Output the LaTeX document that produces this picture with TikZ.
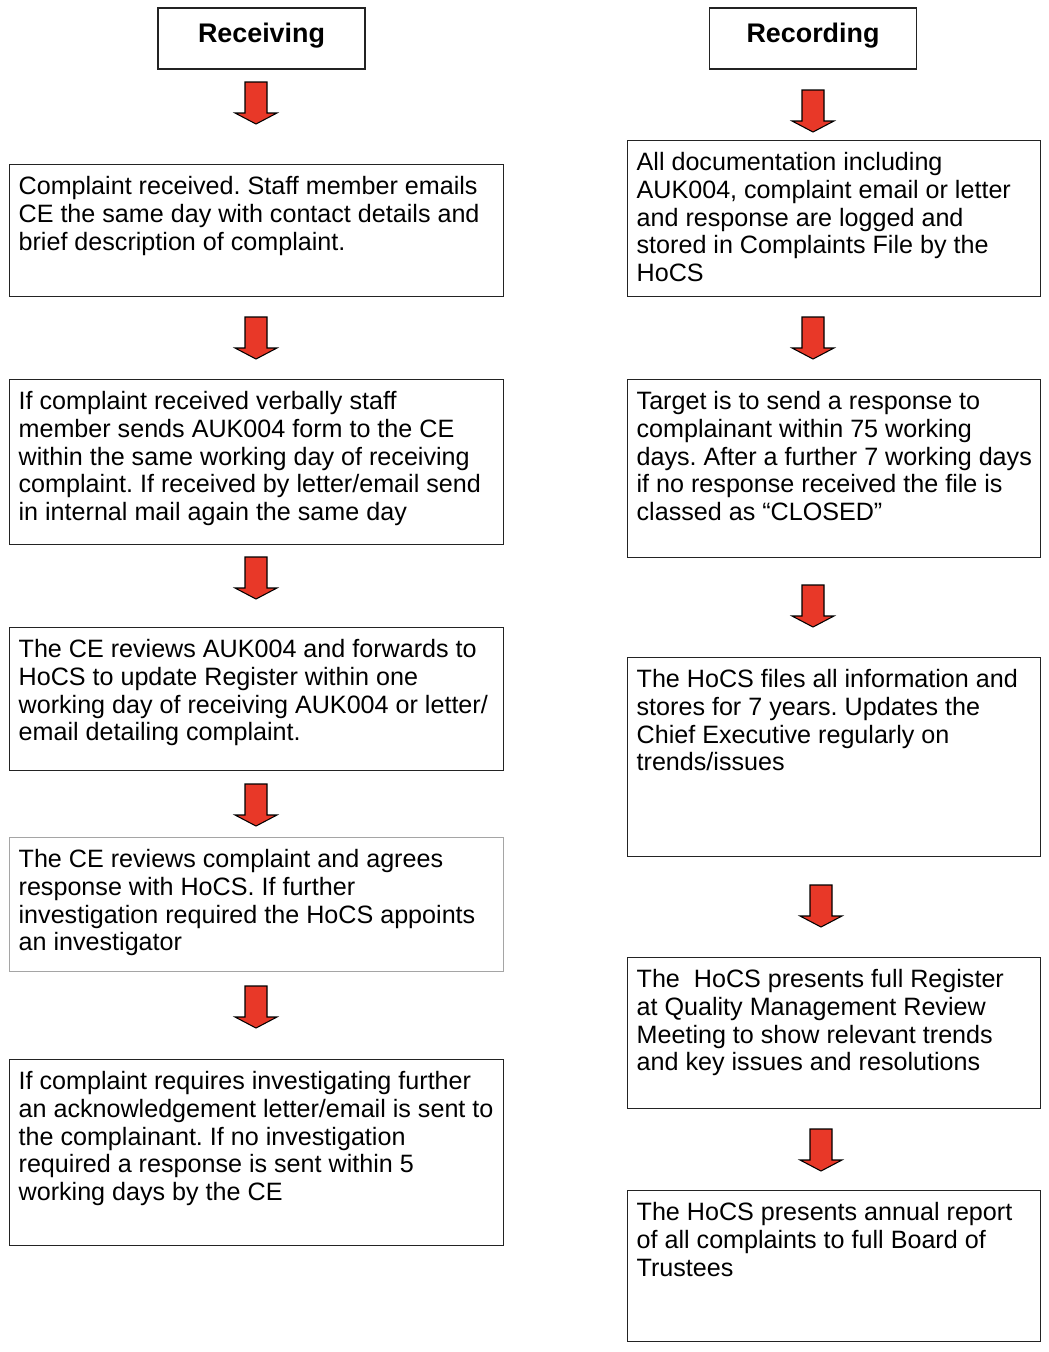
\documentclass[tikz,border=0pt]{standalone}
\usepackage{fontspec}
\setmainfont{Liberation Sans}
\usetikzlibrary{positioning}
\frenchspacing
\definecolor{flowred}{RGB}{232,56,40}
\definecolor{edge}{RGB}{35,35,35}
\definecolor{softedge}{RGB}{165,165,165}
\tikzstyle{stepbox} = [draw=edge, line width=0.75pt, rectangle, anchor=north west, inner xsep=0.18cm, inner ysep=0.22cm, font=\fontsize{14.3pt}{15.7pt}\selectfont]
\tikzstyle{headbox} = [draw=edge, line width=0.75pt, rectangle, minimum width=4.14cm, minimum height=1.22cm, text height=0.39cm, text depth=0.24cm, font=\fontsize{15.3pt}{18pt}\selectfont\bfseries]
\tikzset{downarrow/.pic={\draw[fill=flowred, line width=0.6pt] (-11,0) -- (11,0) -- (11,31) -- (21,31) -- (0,42) -- (-21,31) -- (-11,31) -- cycle;}}
\newcommand{\steplines}[3]{\parbox[t][#2][t]{#1}{\begin{tabular}{@{}l@{}}#3\end{tabular}}}

\begin{document}
\begin{tikzpicture}[x=0.02cm, y=-0.02cm]
  \fill[white] (0,0) rectangle (1048,1352);
  \useasboundingbox (0,0) rectangle (1048,1352);

  % column headings
  \node[headbox] (receiving) at (261.5,38.5) {Receiving};
  \node[headbox] (recording) at (813,38.5) {Recording};

  % receiving steps
  \node[stepbox] (received) at (9,164) {\steplines{9.52cm}{2.2cm}{Complaint received. Staff member emails\\CE the same day with contact details and\\brief description of complaint.}};
  \node[stepbox] (verbal) at (9,379) {\steplines{9.52cm}{2.86cm}{If complaint received verbally staff\\member sends AUK004 form to the CE\\within the same working day of receiving\\complaint. If received by letter/email send\\in internal mail again the same day}};
  \node[stepbox] (forward) at (9,627) {\steplines{9.52cm}{2.42cm}{The CE reviews AUK004 and forwards to\\HoCS to update Register within one\\working day of receiving AUK004 or letter/\\email detailing complaint.}};
  \node[stepbox, draw=softedge] (agree) at (9,837) {\steplines{9.52cm}{2.24cm}{The CE reviews complaint and agrees\\response with HoCS. If further\\investigation required the HoCS appoints\\an investigator}};
  \node[stepbox] (reply) at (9,1059) {\steplines{9.52cm}{3.28cm}{If complaint requires investigating further\\an acknowledgement letter/email is sent to\\the complainant. If no investigation\\required a response is sent within 5\\working days by the CE}};

  % recording steps
  \node[stepbox] (logged) at (627,140) {\steplines{7.9cm}{2.68cm}{All documentation including\\AUK004, complaint email or letter\\and response are logged and\\stored in Complaints File by the\\HoCS}};
  \node[stepbox] (target) at (627,379) {\steplines{7.9cm}{3.12cm}{Target is to send a response to\\complainant within 75 working\\days. After a further 7 working days\\if no response received the file is\\classed as “CLOSED”}};
  \node[stepbox] (files) at (627,657) {\steplines{7.9cm}{3.54cm}{The HoCS files all information and\\stores for 7 years. Updates the\\Chief Executive regularly on\\trends/issues}};
  \node[stepbox] (review) at (627,957) {\steplines{7.9cm}{2.58cm}{The\ \ HoCS presents full Register\\at Quality Management Review\\Meeting to show relevant trends\\and key issues and resolutions}};
  \node[stepbox] (annual) at (627,1190) {\steplines{7.9cm}{2.58cm}{The HoCS presents annual report\\of all complaints to full Board of\\Trustees}};

  % block arrows
  \foreach \y in {82,317,557,784,986}
    \pic at (256,\y) {downarrow};
  \foreach \y in {90,317,585}
    \pic at (813,\y) {downarrow};
  \foreach \y in {885,1129}
    \pic at (821,\y) {downarrow};
\end{tikzpicture}
\end{document}
